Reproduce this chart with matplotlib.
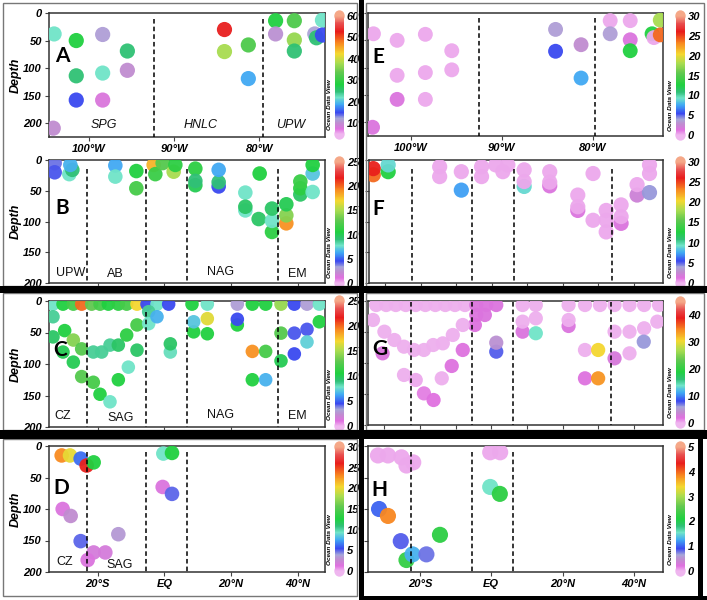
import matplotlib
matplotlib.use('Agg')
import matplotlib.pyplot as plt
from matplotlib.colors import LinearSegmentedColormap, Normalize
from matplotlib.cm import ScalarMappable
from matplotlib.patches import Ellipse, Rectangle

plt.rcParams['font.family'] = ['Liberation Sans', 'DejaVu Sans']

# ---------------- data ----------------
# Panels A / E : Pacific section (longitude, negative = W)
ae_lon = [-104.1, -101.5, -98.4, -95.5, -101.5, -98.4, -95.5, -101.5, -98.4, -104.2,
          -84.1, -84.1, -81.3, -81.3, -78.1, -75.9, -78.1, -75.9, -75.9, -72.6,
          -73.5, -73.3, -72.6]
ae_depth = [38, 50, 39, 69, 114, 109, 104, 158, 158, 209,
            30, 70, 58, 119, 14, 14, 38, 49, 69, 13,
            38, 45, 40]
a_val = [22, 28, 11.5, 25, 25, 22, 10, 15, 7.8, 10,
         53, 38, 32, 18.8, 28, 32, 10.5, 37, 25, 22,
         12, 25, 15]
e_val = [0.3, 0.3, 0.3, 0.3, 0.3, 0.3, 0.3, 1.5, 0.3, 1.5,
         3.6, 5.4, 2.7, 7.5, 0.3, 0.3, 3.6, 1.5, 12.6, 18,
         12.6, 0.3, 24]

# Panel B (latitude, depth, value)
b_lat = [-32.9, -32.9, -28.5, -27.6, -28.2, -14.7, -14.7, -8.4, -8.4, -3.2,
         -2.7, -0.5, 2.8, 3.3, 9.3, 9.3, 9.3, 16.3, 16.3, 16.3,
         24.3, 24.3, 24.3, 28.6, 28.3, 32.3, 32.3, 32.3, 36.6, 36.6,
         36.6, 40.8, 40.8, 40.8, 44.5, 44.5, 44.5]
b_depth = [5, 20, 23, 16, 8, 9, 27, 18, 46, 8,
           23, 5, 19, 8, 14, 41, 34, 43, 36, 16,
           82, 53, 76, 22, 96, 117, 99, 79, 103, 90,
           72, 56, 46, 35, 22, 8, 52]
b_val = [4.0, 4.3, 7.8, 9, 6.5, 6.3, 7.8, 10.5, 12, 18,
         11.5, 12.5, 15, 11, 11, 10, 9, 4.5, 9, 6.3,
         7.8, 7.8, 9.5, 10.5, 9.5, 11, 7.8, 9.5, 19, 14,
         10, 9.5, 11, 11.5, 7, 10.5, 7.8]

# Panel F
f_lat = [-33.4, -33.4, -29.2, -29.2, -14.7, -14.7, -8.6, -8.6, -2.9, -2.9,
         1.1, 3.1, 4.5, 9.1, 9.1, 9.1, 16.3, 16.3, 16.3, 24.2,
         24.2, 24.2, 28.5, 28.5, 32.2, 32.2, 32.2, 36.4, 36.4, 36.4,
         40.9, 40.9, 44.4, 44.4, 44.4]
f_depth = [24, 14, 19, 8, 11, 27, 19, 49, 11, 27,
           8, 19, 8, 43, 35, 16, 42, 36, 19, 82,
           76, 57, 22, 98, 117, 98, 82, 103, 92, 73,
           57, 40, 53, 22, 8]
f_val = [24, 26, 12.6, 9, 0.3, 0.3, 0.3, 7.3, 0.3, 0.3,
         0.3, 0.3, 0.3, 9, 0.3, 0.3, 1.5, 0.3, 0.3, 1.5,
         0.3, 0.3, 0.3, 0.3, 0.3, 0.3, 0.3, 1.5, 0.3, 0.3,
         2.2, 0.3, 4.2, 0.3, 0.3]

# Panel C
c_lat = [-33.4, -30.4, -27.3, -24.8, -21.8, -19.3, -16.8, -13.8, -11.3, -8.2,
         -5.2, -2.2, 1.3, 8.3, 12.9, 21.9, 26.4, 30.4, 35.0, 39.0,
         42.8, 46.5,
         -33.4, -33.4, -29.9, -27.3, -30.4, -27.3, -24.8, -24.8, -21.3, -21.3,
         -18.8, -19.3, -16.3, -16.3, -13.8, -11.3, -8.2, -8.2, -10.8, -13.8,
         -4.7, -4.7, -2.2, 1.8, 1.8, 8.8, 8.8, 12.9, 12.9, 21.9,
         21.9, 26.4, 30.4, 26.4, 30.4, 35.0, 35.0, 39.0, 39.0, 42.8,
         42.8, 46.5]
c_depth = [5, 5, 5, 5, 5, 5, 5, 5, 5, 5,
           5, 5, 5, 5, 5, 5, 5, 5, 5, 5,
           5, 5,
           25, 57, 47, 62, 81, 97, 76, 120, 81, 129,
           81, 148, 70, 160, 70, 54, 38, 78, 105, 125,
           17, 36, 25, 81, 68, 49, 33, 52, 28, 38,
           29, 80, 80, 125, 125, 51, 95, 51, 84, 45,
           65, 33]
c_val = [7.8, 10.5, 12, 20, 13, 12, 10.5, 11, 12, 17,
         4.5, 7.8, 4.5, 10.5, 7.8, 3, 10.5, 10.5, 14.5, 4.5,
         3, 7.8,
         8.5, 9.5, 10.5, 14, 10, 10, 12.5, 12.5, 8.5, 12,
         8.5, 10.5, 8.5, 7.8, 9.5, 11, 12, 9.5, 7.8, 10.5,
         8.5, 7.8, 6.5, 8, 9.5, 10.5, 7, 10.5, 16.5, 10.5,
         4.5, 19, 12, 10.5, 6.5, 12.5, 10, 4.3, 4.5, 4.3,
         7.3, 10.5]

# Panel G
g_lat = [-32.3, -29.5, -26.8, -24.0, -21.2, -18.5, -15.7, -12.9, -10.2, -7.4,
         -4.2, -1.4, 1.4, -4.2, -1.8, -4.6,
         8.8, 12.5, 21.7, 26.3, 30.5, 34.6, 38.8, 42.9, 47.1,
         -33.2, -30.0, -27.2, -24.5, -21.7, -18.9, -16.3, -13.6, -10.8, -8.0,
         -30.5, -24.5, -21.2, -18.9, -16.2, -13.9, -11.1, -8.0,
         1.4, 1.4, 8.8, 8.8, 12.5, 12.5, 21.7, 21.7,
         26.3, 30.0, 26.3, 30.0, 34.6, 38.8, 42.9, 46.6, 34.6, 38.8, 42.8]
g_depth = [6.5, 6.5, 6.5, 6.5, 6.5, 6.5, 6.5, 6.5, 6.5, 6.5,
           6.5, 6.5, 6.5, 22.6, 22.6, 38.7,
           6.5, 6.5, 6.5, 6.5, 6.5, 6.5, 6.5, 6.5, 6.5,
           30.6, 49.5, 62.9, 73.7, 79, 79, 71, 68.3, 54.8, 38.7,
           84.4, 119.3, 127.4, 149, 159.7, 124.7, 104.8, 79,
           81.7, 67.2, 49.5, 33.3, 52, 28, 40.3, 30.6,
           79, 79, 124.7, 124.7, 49.5, 49.5, 44, 33.3, 92.5, 84.4, 65.6]
g_val = [0.3, 0.3, 0.3, 0.3, 0.3, 0.3, 0.3, 0.3, 0.3, 0.3,
         2.2, 2.2, 2.2, 2.2, 2.2, 2.0,
         0.3, 0.3, 0.3, 0.3, 0.3, 0.3, 0.3, 0.3, 0.3,
         0.3, 0.3, 0.3, 0.3, 0.3, 0.3, 0.3, 0.3, 0.3, 0.3,
         2.2, 0.3, 0.5, 1.5, 1.8, 0.3, 2.0, 2.0,
         7.6, 4.5, 2.2, 0.3, 14, 0.3, 2.2, 0.3,
         0.3, 30.6, 2.0, 34, 0.3, 0.3, 0.3, 0.3, 2.5, 0.3, 6.3]

# Panel D
d_lat = [-30.8, -28.3, -25.1, -23.3, -21.2, -30.5, -28.1, -25.1, -13.8, -21.2,
         -23.0, -17.7, -0.3, 2.3, -0.5, 2.3]
d_depth = [15, 15, 20, 31, 26, 100, 111, 151, 140, 169,
           181, 169, 12, 11, 65, 76]
d_val = [23, 20, 6.3, 26, 12.6, 1.5, 2.7, 5, 3.3, 1.8,
         1.5, 1.8, 9.3, 12.6, 1.5, 5]

# Panel H
h_lat = [-31.8, -29.0, -25.2, -23.8, -21.9, -0.3, 2.5, -0.3, 2.4, -31.5,
         -29.0, -25.4, -14.4, -23.8, -22.1, -18.2]
h_depth = [15, 15, 18, 31, 26, 10, 10, 65, 76, 100,
           111, 151, 141, 181, 172, 172]
h_val = [0.05, 0.05, 0.05, 0.05, 0.05, 0.05, 0.05, 1.55, 2.2, 1.0,
         3.85, 0.85, 2.2, 2.25, 1.3, 0.8]

lon_ticks = [-100, -90, -80]
lon_labels = ['100°W', '90°W', '80°W']
lat_ticks = [-20, 0, 20, 40]
lat_labels = ['20°S', 'EQ', '20°N', '40°N']
depth_ticks = [0, 50, 100, 150, 200]

regions_A = [(-98.2, 203, 'SPG'), (-86.9, 203, 'HNLC'), (-76.3, 203, 'UPW')]
regions_B = [(-28.2, 183, 'UPW'), (-14.7, 185, 'AB'), (16.9, 182, 'NAG'), (40.0, 185, 'EM')]
regions_C = [(-30.4, 183, 'CZ'), (-13.1, 185, 'SAG'), (16.9, 181, 'NAG'), (40.0, 183, 'EM')]
regions_D = [(-30.0, 184, 'CZ'), (-13.3, 189, 'SAG')]

# ---------------- style ----------------
nodes = [(0.00, '#efb6ef'), (0.04, '#e070e0'), (0.09, '#c08cd0'), (0.13, '#a8a6d8'),
         (0.18, '#3a48f0'), (0.25, '#40a8f4'), (0.31, '#70e4c8'), (0.36, '#30c078'),
         (0.42, '#20d040'), (0.52, '#60c850'), (0.60, '#a8dc50'), (0.68, '#f4d830'),
         (0.77, '#f88a20'), (0.87, '#e81c1c'), (0.94, '#e85050'), (1.00, '#f5a888')]
cmap = LinearSegmentedColormap.from_list('odv', nodes)

W, H = 707, 600
fig = plt.figure(figsize=(W / 100, H / 100), dpi=100)


def rect(l, t, r, b):
    return [l / W, 1 - b / H, (r - l) / W, (b - t) / H]


TICKFONT = dict(fontsize=8, fontweight='bold', style='italic')


def panel(box, xlim, ylim, xs, ds, vs, vmin, vmax, size, dashes, dash_top,
          xticks, xticklabels, show_y, letter, lpos, regions, reg_italic,
          cbox, cticks):
    ax = fig.add_axes(rect(*box))
    norm = Normalize(vmin, vmax)
    ax.scatter(xs, ds, c=vs, cmap=cmap, norm=norm, s=size, edgecolors='none',
               alpha=0.95, zorder=3, clip_on=True)
    ax.set_xlim(*xlim)
    ax.set_ylim(ylim, 0)
    for x in dashes:
        ax.plot([x, x], [dash_top, ylim], ls=(0, (3, 2)), color='black', lw=1.1, zorder=4)
    ax.set_yticks(depth_ticks)
    ax.set_xticks(xticks)
    if xticklabels is not None:
        ax.set_xticklabels(xticklabels, **TICKFONT)
    else:
        ax.set_xticklabels([])
    if show_y:
        ax.set_yticklabels([str(t) for t in depth_ticks], **TICKFONT)
        ax.set_ylabel('Depth', fontsize=9, fontweight='bold', style='italic')
        ax.yaxis.set_label_coords(-0.10, 0.5)
    else:
        ax.set_yticklabels([])
    ax.tick_params(length=3, width=0.8, pad=2, colors='#444444', labelcolor='black')
    for sp in ax.spines.values():
        sp.set_color('#333333')
        sp.set_linewidth(1.1)
    ax.text(lpos[0], lpos[1], letter, transform=ax.transAxes, fontsize=15,
            fontweight='bold', family=['Lato', 'DejaVu Sans'], ha='center', va='center', zorder=6)
    for x, d, t in regions:
        ax.text(x, d, t, fontsize=9, style='italic' if reg_italic else 'normal',
                ha='center', va='center', zorder=6, color='#111111')

    cax = fig.add_axes(rect(*cbox))
    cb = fig.colorbar(ScalarMappable(norm=norm, cmap=cmap), cax=cax)
    cb.outline.set_visible(False)
    cb.set_ticks(cticks)
    cb.set_ticklabels([str(t) for t in cticks])
    cax.tick_params(length=0, pad=2)
    for lab in cax.get_yticklabels():
        lab.set_fontsize(8)
        lab.set_fontweight('bold')
        lab.set_style('italic')
    hpx = cbox[3] - cbox[1]
    ch = 10.0 / hpx
    cax.add_patch(Ellipse((0.5, 1.0), 1.0, ch, transform=cax.transAxes,
                          color=cmap(1.0), clip_on=False, zorder=0))
    cax.add_patch(Ellipse((0.5, 0.0), 1.0, ch, transform=cax.transAxes,
                          color=cmap(0.0), clip_on=False, zorder=0))
    cax.text(-0.35, 0.25, 'Ocean Data View', transform=cax.transAxes, rotation=90,
             ha='right', va='center', fontsize=4.6, fontweight='bold', style='italic')
    return ax


lon_lim = (-104.7, -72.3)
lat_lim = (-34.6, 48.2)
dash_left = [-23.2, -5.5, 6.8, 34.2]
dash_right = [-22.5, -5.5, 6.2, 33.7]

panel((49, 13, 325, 137), lon_lim, 225, ae_lon, ae_depth, a_val, 5, 60, 120,
      [-92.4, -79.6], 10, lon_ticks, lon_labels, True, 'A', (0.05, 0.65),
      regions_A, True, (335, 16, 344, 134), [10, 20, 30, 40, 50, 60])
panel((368, 13, 663, 136), lon_lim, 225, ae_lon, ae_depth, e_val, 0, 30, 115,
      [-92.5, -79.8], 9, lon_ticks, lon_labels, False, 'E', (0.035, 0.64),
      [], True, (676, 16, 685, 135), [0, 5, 10, 15, 20, 25, 30])
panel((49, 160, 325, 283), lat_lim, 200, b_lat, b_depth, b_val, 0, 25, 110,
      dash_left, 15, lat_ticks, None, True, 'B', (0.047, 0.61),
      regions_B, False, (335, 162, 344, 283), [0, 5, 10, 15, 20, 25])
panel((369, 160, 663, 283), lat_lim, 200, f_lat, f_depth, f_val, 0, 30, 120,
      dash_right, 15, [-30, -20, -10, 0, 10, 20, 30, 40], None, False, 'F', (0.03, 0.60),
      [], False, (676, 162, 685, 283), [0, 5, 10, 15, 20, 25, 30])
panel((49, 301, 325, 427), lat_lim, 200, c_lat, c_depth, c_val, 0, 25, 95,
      dash_left, 17, lat_ticks, None, True, 'C', (0.04, 0.61),
      regions_C, False, (335, 301, 344, 426), [0, 5, 10, 15, 20, 25])
panel((368, 301, 663, 425), lat_lim, 200, g_lat, g_depth, g_val, 0, 45, 105,
      dash_right, 2, [-30, -20, -10, 0, 10, 20, 30, 40], None, False, 'G', (0.04, 0.61),
      [], False, (676, 302, 685, 423), [0, 10, 20, 30, 40])
panel((49, 446, 325, 572), lat_lim, 200, d_lat, d_depth, d_val, 0, 30, 110,
      dash_left[:3], 10, lat_ticks, lat_labels, True, 'D', (0.045, 0.67),
      regions_D, False, (335, 447, 344, 571), [0, 5, 10, 15, 20, 25, 30])
panel((368, 446, 663, 572), lat_lim, 200, h_lat, h_depth, h_val, 0, 5, 135,
      dash_right[:3], 10, lat_ticks, lat_labels, False, 'H', (0.04, 0.65),
      [], False, (676, 447, 685, 571), [0, 1, 2, 3, 4, 5])


def frame_box(x0, y0, x1, y1, color='#777777', lw=1.0):
    fig.add_artist(Rectangle((x0 / W, 1 - y1 / H), (x1 - x0) / W, (y1 - y0) / H,
                             transform=fig.transFigure, fill=False, edgecolor=color, lw=lw, zorder=20))


def black_bar(x0, y0, x1, y1):
    fig.add_artist(Rectangle((x0 / W, 1 - y1 / H), (x1 - x0) / W, (y1 - y0) / H,
                             transform=fig.transFigure, facecolor='black', edgecolor='none', zorder=21))


frame_box(3, 3, 357, 286)
frame_box(3, 293, 357, 430)
frame_box(3, 439, 357, 596)
frame_box(366, 3, 704, 286)
frame_box(366, 293, 704, 430)

black_bar(359, 0, 364, 600)
black_bar(0, 286, 707, 293)
black_bar(0, 430, 707, 439)
black_bar(698, 439, 703, 600)
black_bar(359, 596, 707, 600)

fig.savefig('out.png', dpi=100)
